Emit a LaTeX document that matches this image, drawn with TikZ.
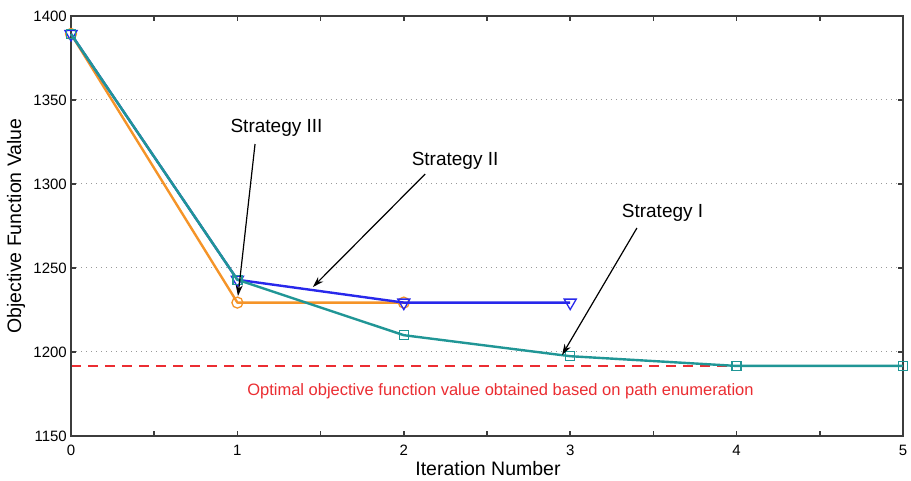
\documentclass[tikz,border=0pt]{standalone}
\usepackage{fontspec}
\setmainfont{Liberation Sans}
\usetikzlibrary{shapes.geometric,arrows.meta}
\definecolor{tealc}{RGB}{32,150,150}
\definecolor{orangec}{RGB}{245,148,40}
\definecolor{bluec}{RGB}{40,40,235}
\definecolor{redc}{RGB}{235,45,50}
\definecolor{axisc}{RGB}{60,60,60}
\tikzset{
  axisline/.style={draw=axisc, line width=1.5pt},
  gridline/.style={draw=gray!80, line width=1pt, dash pattern=on 1pt off 4pt},
  ticklab/.style={font=\fontsize{15}{16}\selectfont, inner sep=0pt},
  axislab/.style={font=\fontsize{19.5}{21}\selectfont, inner sep=0pt},
  stratlab/.style={font=\fontsize{19}{21}\selectfont, inner sep=0pt, anchor=base},
  pointer/.style={draw=black, line width=1.2pt, -{Stealth[length=11pt,width=7pt]}},
  sqm/.style={draw=tealc, line width=1.3pt, rectangle, minimum size=9pt, inner sep=0pt},
  cim/.style={draw=orangec, line width=1.3pt, circle, minimum size=11pt, inner sep=0pt},
  trim/.style={draw=bluec, line width=1.3pt, regular polygon, regular polygon sides=3, shape border rotate=180, minimum size=14pt, inner sep=0pt},
  dataline/.style={line width=2.4pt, line join=round},
}
\begin{document}
\begin{tikzpicture}[x=1pt,y=1pt]
\useasboundingbox (0,0) rectangle (911,481);
\fill[white] (0,0) rectangle (911,481);
\begin{scope}[shift={(71,45)}, x=166.4pt, y=1.68pt]
  % horizontal grid
  \foreach \v in {50,100,150,200}
    \draw[gridline] (0,\v) -- (5,\v);
  % optimal value reference line
  \draw[redc, line width=1.3pt, dash pattern=on 10pt off 7pt] (0,41.7) -- (5,41.7);
  \node[font=\fontsize{16.5}{18}\selectfont, text=redc, inner sep=0pt, anchor=base] (opt) at (2.581,24.4) {Optimal objective function value obtained based on path enumeration};
  % axis box and ticks
  \draw[axisline] (0,0) rectangle (5,250);
  \foreach \t in {0.5,1,...,4.5} {
    \draw[axisline] (\t,0) -- ++(0,5pt);
    \draw[axisline] (\t,250) -- ++(0,-5pt);
  }
  \foreach \v in {50,100,150,200} {
    \draw[axisline] (0,\v) -- ++(5pt,0);
    \draw[axisline] (5,\v) -- ++(-5pt,0);
  }
  \foreach \t in {0,...,5}
    \node[ticklab, anchor=north] (xl\t) at (\t,-5.2) {\t};
  \foreach \v/\l in {0/1150,50/1200,100/1250,150/1300,200/1350,250/1400}
    \node[ticklab, anchor=east] (yl\l) at (-4pt,\v) {\l};
  \node[axislab, anchor=south] (xlab) at (2.506,-24.0) {Iteration Number};
  \node[axislab, rotate=90] (ylab) at (-55pt,125) {Objective Function Value};

  % data points
  \coordinate (c0) at (0,239.3);
  \coordinate (c1) at (1,79.4);
  \coordinate (c2) at (2,79.4);
  \coordinate (b0) at (0,239.3);
  \coordinate (b1) at (1,93);
  \coordinate (b2) at (2,79.4);
  \coordinate (b3) at (3,79.4);
  \coordinate (s0) at (0,239.3);
  \coordinate (s1) at (1,93);
  \coordinate (s2) at (2,60);
  \coordinate (s3) at (3,47.5);
  \coordinate (s4) at (4,41.7);
  \coordinate (s5) at (5,41.7);

  % Strategy III
  \draw[orangec, dataline] (c0) -- (c1) -- (c2);
  \foreach \p in {c0,c1,c2} \node[cim] at (\p) {};
  % Strategy II
  \draw[bluec, dataline] (b0) -- (b1) -- (b2) -- (b3);
  \foreach \p in {b0,b1,b2,b3} \node[trim] at (\p) {};
  % Strategy I
  \draw[tealc, dataline] (s0) -- (s1) -- (s2) -- (s3) -- (s4) -- (s5);
  \foreach \p in {s0,s1,s2,s3,s4,s5} \node[sqm] at (\p) {};

  % annotations
  \node[stratlab] (l3) at (1.235,180.4) {Strategy III};
  \node[stratlab] (l2) at (2.308,161.3) {Strategy II};
  \node[stratlab] (l1) at (3.555,129.8) {Strategy I};
  \coordinate (f3) at (1.106,173.8);
  \coordinate (f2) at (2.128,155.9);
  \coordinate (f1) at (3.401,123.8);
  \coordinate (t3) at (1.0036,83.3);
  \coordinate (t2) at (1.454,88.7);
  \coordinate (t1) at (2.951,48.2);
  \draw[pointer] (f3) -- (t3);
  \draw[pointer] (f2) -- (t2);
  \draw[pointer] (f1) -- (t1);
\end{scope}
\end{tikzpicture}
\end{document}
